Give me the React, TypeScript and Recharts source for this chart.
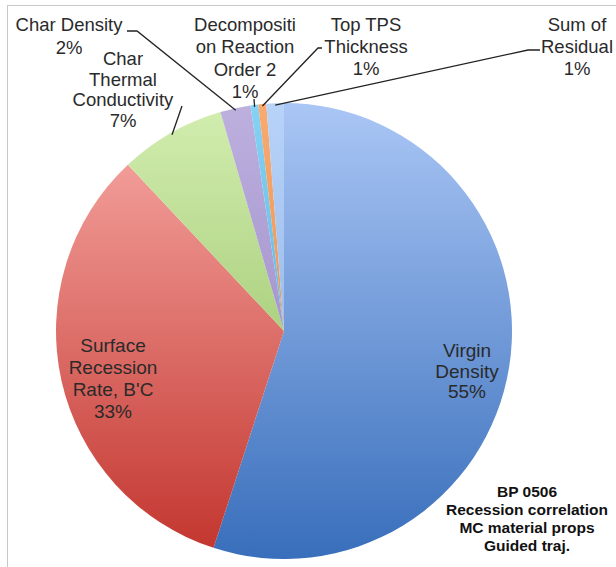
import { Cell, Pie, PieChart } from 'recharts';

// Sensitivity shares (clockwise from 12 o'clock). Rounded labels are
// what the chart prints; the shares are read from the slice widths.
const NAMES = [
  'Virgin Density',
  "Surface Recession Rate, B'C",
  'Char Thermal Conductivity',
  'Char Density',
  'Decomposition Reaction Order 2',
  'Top TPS Thickness',
  'Sum of Residual',
];
const SHARES = [55, 33, 7.5, 2.15, 0.55, 0.56, 1.24];
const PCT_LABELS = ['55%', '33%', '7%', '2%', '1%', '1%', '1%'];
const LABEL_LINES = [
  ['Virgin', 'Density'],
  ['Surface', 'Recession', "Rate, B'C"],
  ['Char', 'Thermal', 'Conductivity'],
  ['Char Density'],
  ['Decompositi', 'on Reaction', 'Order 2'],
  ['Top TPS', 'Thickness'],
  ['Sum of', 'Residual'],
];
const NOTE = ['BP 0506', 'Recession correlation', 'MC material props', 'Guided traj.'];

const data = NAMES.map((name, i) => ({ name, value: SHARES[i] }));

// light (top) / dark (bottom) of each slice's vertical gradient
const TOP = ['#aac6f5', '#f9aca8', '#d3eeb0', '#bdb0de', '#86d2f4', '#f8aa70', '#b8d3f8'];
const BOTTOM = ['#386ebb', '#c2342d', '#86b552', '#8f7bbf', '#3ea3d8', '#e0833e', '#7fa7e0'];

const CX = 284;
const CY = 331;
const R = 228;
const FONT = '"Liberation Sans", Arial, sans-serif';
const TEXT = '#2a2a2a';

// text anchor (centre x, first baseline), line height, font size, leader path
const LAYOUT = [
  { x: 467, y: 357, lh: 20.5, size: 19, leader: null },
  { x: 113, y: 352, lh: 22, size: 19, leader: null },
  { x: 123, y: 65, lh: 20.5, size: 18.5, leader: [[182, 106]] },
  { x: 69, y: 31, lh: 22.5, size: 18.5, leader: [[137, 31], [127, 31]] },
  { x: 245, y: 31, lh: 22.3, size: 18.5, leader: [[254, 99]] },
  { x: 366, y: 31, lh: 22, size: 18.5, leader: [[318, 48], [322, 48]] },
  { x: 577, y: 31, lh: 22, size: 18.5, leader: [[528, 50], [540, 50]] },
];

const RAD = Math.PI / 180;

function renderLabel(props: any) {
  const { index, midAngle, cx, cy, outerRadius } = props;
  const L = LAYOUT[index];
  const lines = [...LABEL_LINES[index], PCT_LABELS[index]];
  let leader = null;
  if (L.leader) {
    const sx = cx + (outerRadius - 2) * Math.cos(-midAngle * RAD);
    const sy = cy + (outerRadius - 2) * Math.sin(-midAngle * RAD);
    const pts = [[sx, sy], ...L.leader].map((p) => p.join(',')).join(' ');
    leader = <polyline points={pts} fill="none" stroke="#222" strokeWidth={1.3} />;
  }
  return (
    <g key={`lbl-${index}`}>
      {leader}
      {lines.map((t, j) => (
        <text
          key={j}
          x={L.x}
          y={L.y + j * L.lh}
          textAnchor="middle"
          fontFamily={FONT}
          fontSize={L.size}
          fill={TEXT}
        >
          {t}
        </text>
      ))}
    </g>
  );
}

export default function App() {
  return (
    <div style={{ position: 'absolute', left: 0, top: 0, width: 616, height: 567, background: '#fff', overflow: 'hidden' }}>
      <div
        style={{
          position: 'absolute',
          left: 7,
          top: 5,
          width: 700,
          height: 700,
          borderLeft: '1px solid #c8c8c8',
          borderTop: '1px solid #c8c8c8',
        }}
      />
      <div style={{ position: 'absolute', left: 0, top: 0 }}>
        <PieChart width={616} height={567} margin={{ top: 0, right: 0, bottom: 0, left: 0 }}>
          <defs>
            {TOP.map((c, i) => (
              <linearGradient
                key={i}
                id={`g${i}`}
                gradientUnits="userSpaceOnUse"
                x1={0}
                y1={CY - R}
                x2={0}
                y2={CY + R}
              >
                <stop offset="0%" stopColor={c} />
                <stop offset="100%" stopColor={BOTTOM[i]} />
              </linearGradient>
            ))}
          </defs>
          <Pie
            data={data}
            dataKey="value"
            nameKey="name"
            cx={CX}
            cy={CY}
            outerRadius={R}
            startAngle={90}
            endAngle={-270}
            stroke="none"
            label={renderLabel}
            labelLine={false}
            isAnimationActive={false}
          >
            {data.map((d, i) => (
              <Cell key={d.name} fill={`url(#g${i})`} />
            ))}
          </Pie>
          {NOTE.map((t, j) => (
            <text
              key={t}
              x={527}
              y={497 + j * 18}
              textAnchor="middle"
              fontFamily={FONT}
              fontWeight="bold"
              fontSize={15.5}
              fill="#111"
            >
              {t}
            </text>
          ))}
        </PieChart>
      </div>
    </div>
  );
}
